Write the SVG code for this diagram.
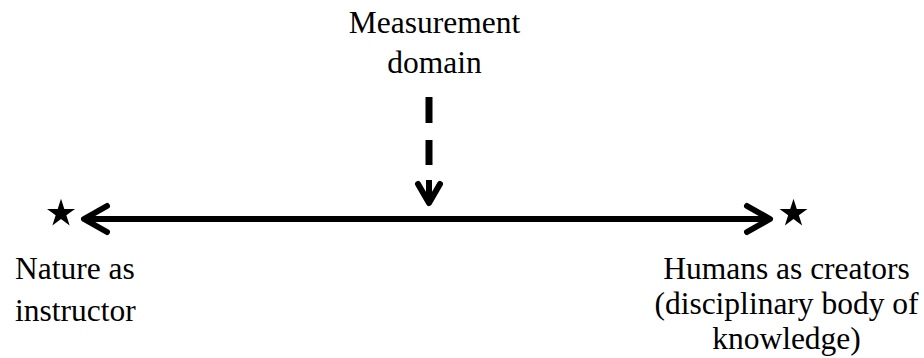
<svg xmlns="http://www.w3.org/2000/svg" width="924" height="358" viewBox="0 0 924 358">
<style>
text{font-family:"Liberation Serif","Times New Roman",serif;font-size:31.5px;fill:#000}
.ln{stroke:#000;stroke-width:6;fill:none}
.ah{stroke:#000;stroke-width:6;fill:none;stroke-linecap:round;stroke-linejoin:round}
.star{fill:#000}
</style>
<defs>
<path id="star" class="star" d="M0,-14.7 L3.3,-4.55 L13.98,-4.54 L5.34,1.74 L8.64,11.89 L0,5.62 L-8.64,11.89 L-5.34,1.74 L-13.98,-4.54 L-3.3,-4.55 Z"/>
</defs>
<rect width="924" height="358" fill="#fff"/>
<g id="measurement">
<text x="434.5" y="33" text-anchor="middle">Measurement</text>
<text x="434.5" y="73" text-anchor="middle">domain</text>
</g>
<g id="nature">
<use href="#star" x="61" y="213.5"/>
<text x="15" y="279">Nature as</text>
<text x="15" y="321">instructor</text>
</g>
<g id="humans">
<use href="#star" x="793.5" y="213.5"/>
<text x="786.5" y="279" text-anchor="middle">Humans as creators</text>
<text x="786.5" y="314" text-anchor="middle">(disciplinary body of</text>
<text x="786.5" y="349" text-anchor="middle">knowledge)</text>
</g>
<g id="connectors">
<line class="ln" x1="85" y1="219" x2="769" y2="219"/>
<polyline class="ah" points="107,206 84,219 107,232"/>
<polyline class="ah" points="747,206 770,219 747,232"/>
<line class="ln" x1="429" y1="97" x2="429" y2="123" style="stroke-width:7"/>
<line class="ln" x1="429" y1="140" x2="429" y2="165" style="stroke-width:7"/>
<line class="ln" x1="429" y1="180" x2="429" y2="202"/>
<polyline class="ah" points="418,184 429,203 440,184"/>
</g>
</svg>
